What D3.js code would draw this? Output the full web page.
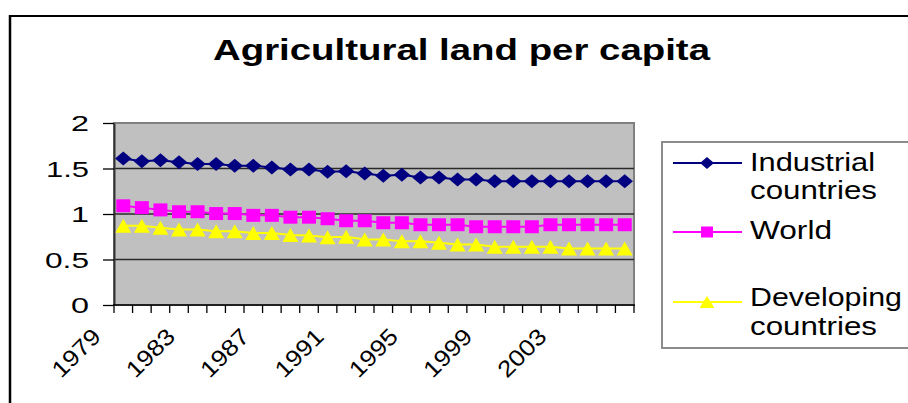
<!DOCTYPE html>
<html>
<head>
<meta charset="utf-8">
<script src="https://cdn.jsdelivr.net/npm/d3@7"></script>
<style>
  html, body { margin: 0; padding: 0; background: #fff; }
  svg { display: block; font-family: "Liberation Sans", Arial, sans-serif; }
</style>
</head>
<body>
<svg id="chart" width="908" height="403"></svg>
<script>
// ---------------- DATA ----------------
const years = ["1979","1980","1981","1982","1983","1984","1985","1986","1987","1988",
               "1989","1990","1991","1992","1993","1994","1995","1996","1997","1998",
               "1999","2000","2001","2002","2003","2004","2005","2006"];
const yearLabels = ["1979","1983","1987","1991","1995","1999","2003"];
const industrial = [1.61,1.58,1.59,1.57,1.55,1.55,1.53,1.53,1.51,1.49,
                    1.49,1.465,1.47,1.445,1.42,1.43,1.40,1.40,1.38,1.38,
                    1.36,1.36,1.36,1.36,1.36,1.36,1.36,1.36];
const world = [1.09,1.07,1.045,1.025,1.025,1.005,1.005,0.985,0.985,0.965,
               0.965,0.948,0.926,0.926,0.904,0.904,0.882,0.882,0.882,0.86,
               0.86,0.86,0.86,0.882,0.882,0.882,0.882,0.882];
const developing = [0.87,0.87,0.85,0.83,0.83,0.81,0.81,0.79,0.79,0.77,
                    0.765,0.745,0.75,0.72,0.72,0.70,0.70,0.685,0.665,0.665,
                    0.64,0.64,0.64,0.64,0.62,0.62,0.62,0.62];
const yTicks = [0, 0.5, 1, 1.5, 2];
const yTickLabels = ["0", "0.5", "1", "1.5", "2"];
const seriesNames = ["Industrial countries", "World", "Developing countries"];
const title = "Agricultural land per capita";

// ---------------- LAYOUT ----------------
const svg = d3.select("#chart");
const plot = {left: 114, right: 634, top: 123, bottom: 305};

const x = d3.scaleBand().domain(years).range([plot.left, plot.right]).padding(0);
const cx = d => x(d) + x.bandwidth() / 2;
const y = d3.scaleLinear().domain([0, 2]).range([plot.bottom, plot.top]);

// custom marker shapes (w x h)
function diamond(w, h) {
  return {draw(ctx) {
    ctx.moveTo(0, -h/2); ctx.lineTo(w/2, 0); ctx.lineTo(0, h/2); ctx.lineTo(-w/2, 0); ctx.closePath();
  }};
}
function square(w, h) {
  return {draw(ctx) { ctx.rect(-w/2, -h/2, w, h); }};
}
function triangle(w, h) {
  return {draw(ctx) {
    ctx.moveTo(0, -h/2); ctx.lineTo(w/2, h/2); ctx.lineTo(-w/2, h/2); ctx.closePath();
  }};
}

const series = [
  {name: seriesNames[0], values: industrial, color: "#000080", shape: diamond(16.5, 14), lshape: diamond(14, 12)},
  {name: seriesNames[1], values: world, color: "#FF00FF", shape: square(14, 13), lshape: square(12, 11)},
  {name: seriesNames[2], values: developing, color: "#FFFF00", shape: triangle(16, 14), lshape: triangle(15, 12)}
];

// outer chart border (only top and left visible)
svg.append("line").attr("x1", 9.5).attr("x2", 908).attr("y1", 16).attr("y2", 16)
  .attr("stroke", "#000").attr("stroke-width", 2);
svg.append("line").attr("x1", 10).attr("x2", 10).attr("y1", 15).attr("y2", 403)
  .attr("stroke", "#000").attr("stroke-width", 2.5);

// title
svg.append("text")
  .attr("x", 461.5).attr("y", 60)
  .attr("text-anchor", "middle")
  .attr("font-size", 30).attr("font-weight", "bold")
  .attr("textLength", 497).attr("lengthAdjust", "spacingAndGlyphs")
  .text(title);

// plot area
svg.append("rect")
  .attr("x", plot.left).attr("y", plot.top)
  .attr("width", plot.right - plot.left).attr("height", plot.bottom - plot.top)
  .attr("fill", "#C0C0C0").attr("stroke", "#808080").attr("stroke-width", 2);

// gridlines
svg.append("g").selectAll("line").data(yTicks.filter(t => t > 0 && t < 2)).join("line")
  .attr("x1", plot.left).attr("x2", plot.right)
  .attr("y1", d => y(d)).attr("y2", d => y(d))
  .attr("stroke", "#2a2a2a").attr("stroke-width", 1.4);

// y axis
const yAxis = d3.axisLeft(y).tickValues(yTicks).tickSize(11).tickSizeOuter(0)
  .tickFormat((d, i) => yTickLabels[i]);
const yg = svg.append("g").attr("transform", `translate(${plot.left},0)`).call(yAxis);
yg.select(".domain").attr("stroke", "#333").attr("stroke-width", 2);
yg.selectAll(".tick line").attr("stroke", "#000").attr("stroke-width", 1.3);
const yLabelW = {"0": 18, "0.5": 44, "1": 18, "1.5": 43, "2": 18};
yg.selectAll(".tick text")
  .attr("x", -25).attr("dy", "0.36em")
  .attr("font-size", 21.5).attr("fill", "#000")
  .attr("font-family", "Liberation Sans, Arial, sans-serif")
  .attr("textLength", function() { return yLabelW[this.textContent]; })
  .attr("lengthAdjust", "spacingAndGlyphs");

// x axis
svg.append("line").attr("x1", plot.left - 1).attr("x2", plot.right + 1)
  .attr("y1", plot.bottom).attr("y2", plot.bottom)
  .attr("stroke", "#000").attr("stroke-width", 1.5);
const boundaries = years.map(d => x(d)).concat([x(years[years.length - 1]) + x.bandwidth()]);
svg.append("g").selectAll("line").data(boundaries).join("line")
  .attr("x1", d => d).attr("x2", d => d)
  .attr("y1", plot.bottom).attr("y2", plot.bottom + 8)
  .attr("stroke", "#000").attr("stroke-width", 1.3);
svg.append("g").selectAll("text").data(yearLabels).join("text")
  .attr("transform", d => `translate(${cx(d) - 21},${plot.bottom + 33}) rotate(-45)`)
  .attr("text-anchor", "end")
  .attr("font-size", 23)
  .attr("textLength", 58).attr("lengthAdjust", "spacingAndGlyphs")
  .text(d => d);

// series lines and markers
series.forEach(s => {
  const line = d3.line().x((v, i) => cx(years[i])).y(v => y(v));
  svg.append("path").datum(s.values)
    .attr("d", line).attr("fill", "none")
    .attr("stroke", s.color).attr("stroke-width", 2);
  svg.append("g").selectAll("path").data(s.values).join("path")
    .attr("transform", (v, i) => `translate(${cx(years[i])},${y(v)})`)
    .attr("d", d3.symbol().type(s.shape))
    .attr("fill", s.color);
});

// legend
const lg = svg.append("g");
lg.append("rect").attr("x", 662).attr("y", 142).attr("width", 260).attr("height", 206)
  .attr("fill", "#fff").attr("stroke", "#808080").attr("stroke-width", 1.8);
const legendRows = [
  {s: series[0], ly: 163, lines: [{t: "Industrial", y: 170.5, w: 125}, {t: "countries", y: 198.5, w: 127}]},
  {s: series[1], ly: 232, lines: [{t: "World", y: 238.5, w: 82}]},
  {s: series[2], ly: 302, lines: [{t: "Developing", y: 305.5, w: 152}, {t: "countries", y: 334.5, w: 127}]}
];
legendRows.forEach(r => {
  lg.append("line").attr("x1", 673).attr("x2", 742).attr("y1", r.ly).attr("y2", r.ly)
    .attr("stroke", r.s.color).attr("stroke-width", 2);
  lg.append("path").attr("transform", `translate(707,${r.ly})`)
    .attr("d", d3.symbol().type(r.s.lshape)).attr("fill", r.s.color);
  r.lines.forEach(l => {
    lg.append("text").attr("x", 750).attr("y", l.y)
      .attr("font-size", 25.5)
      .attr("textLength", l.w).attr("lengthAdjust", "spacingAndGlyphs")
      .text(l.t);
  });
});
</script>
</body>
</html>
